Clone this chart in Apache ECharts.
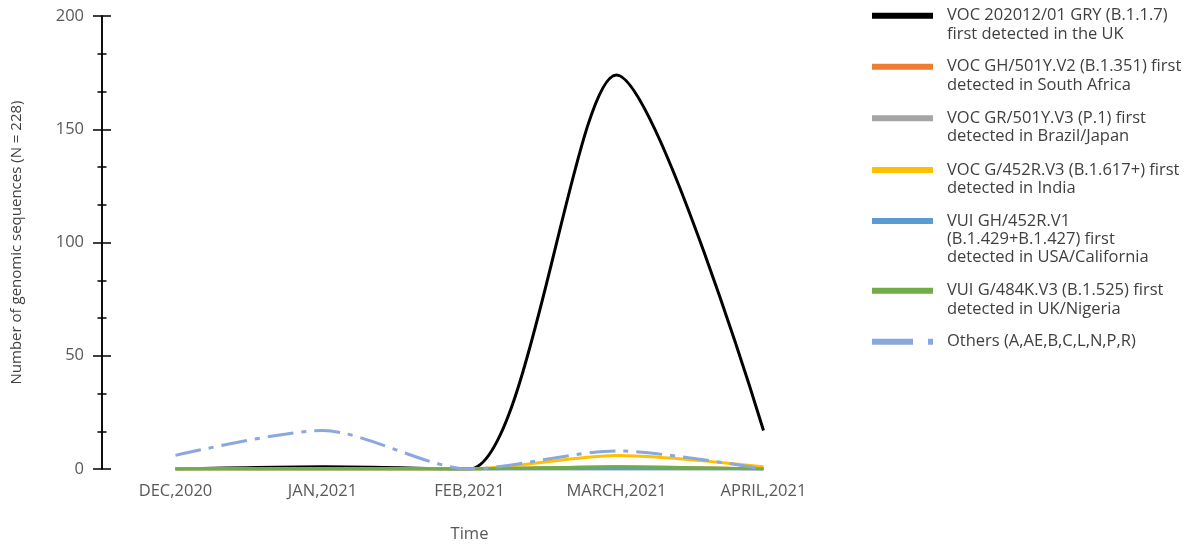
<!DOCTYPE html>
<html>
<head>
<meta charset="utf-8">
<script src="https://cdn.jsdelivr.net/npm/echarts@6/dist/echarts.min.js"></script>
<style>
html,body{margin:0;padding:0;background:#fff;}
#chart{width:1198px;height:545px;}
</style>
</head>
<body>
<div id="chart"></div>
<script>
const categories = ['DEC,2020', 'JAN,2021', 'FEB,2021', 'MARCH,2021', 'APRIL,2021'];
const yTicks = [0, 50, 100, 150, 200];

const seriesNames = [
  'VOC 202012/01 GRY (B.1.1.7) first detected in the UK',
  'VOC GH/501Y.V2 (B.1.351) first detected in South Africa',
  'VOC GR/501Y.V3 (P.1) first detected in Brazil/Japan',
  'VOC G/452R.V3 (B.1.617+) first detected in India',
  'VUI GH/452R.V1 (B.1.429+B.1.427) first detected in USA/California',
  'VUI G/484K.V3 (B.1.525) first detected in UK/Nigeria',
  'Others (A,AE,B,C,L,N,P,R)'
];
const legendLines = [
  ['VOC 202012/01 GRY (B.1.1.7)', 'first detected in the UK'],
  ['VOC GH/501Y.V2 (B.1.351) first', 'detected in South Africa'],
  ['VOC GR/501Y.V3 (P.1) first', 'detected in Brazil/Japan'],
  ['VOC G/452R.V3 (B.1.617+) first', 'detected in India'],
  ['VUI GH/452R.V1', '(B.1.429+B.1.427) first', 'detected in USA/California'],
  ['VUI G/484K.V3 (B.1.525) first', 'detected in UK/Nigeria'],
  ['Others (A,AE,B,C,L,N,P,R)']
];

const ukValues       = [0, 1, 0, 174, 17];
const safricaValues  = [0, 0, 0, 1, 0];
const brazilValues   = [0, 0, 0, 0, 0];
const indiaValues    = [0, 0, 0, 6, 1];
const usaValues      = [0, 0, 0, 0, 0];
const nigeriaValues  = [0, 0, 0, 1, 0];
const othersValues   = [6, 17, 0, 8, 0];

const seriesValues = [ukValues, safricaValues, brazilValues, indiaValues, usaValues, nigeriaValues, othersValues];
const colors = ['#000000', '#ED7D31', '#A5A5A5', '#FFC000', '#5B9BD5', '#70AD47', '#8AA8DC'];

const chart = echarts.init(document.getElementById('chart'));

const LH = 18.3;
const FONT = 'Open Sans';
const iconCenters = [15.7, 66.7, 118.3, 170, 221, 290.7, 341.7];

function iconPath(n, dashed) {
  const h = n * LH;
  const y0 = (LH / 2 - 3).toFixed(2);
  const y1 = (LH / 2 + 3).toFixed(2);
  const marks = 'M0,0h0.01v0.01h-0.01Z M60.99,' + (h - 0.01).toFixed(2) + 'h0.01v0.01h-0.01Z ';
  const body = dashed
    ? 'M0,' + y0 + 'H41V' + y1 + 'H0Z M56,' + y0 + 'H61V' + y1 + 'H56Z'
    : 'M0,' + y0 + 'H61V' + y1 + 'H0Z';
  return 'path://' + marks + body;
}

const legends = seriesNames.map((name, i) => {
  const lines = legendLines[i];
  const n = lines.length;
  return {
    orient: 'vertical',
    left: 872,
    top: iconCenters[i] - LH / 2,
    padding: 0,
    itemWidth: 61,
    itemHeight: n * LH,
    selectedMode: false,
    icon: iconPath(n, i === 6),
    data: [name],
    formatter: () => lines.join('\n'),
    textStyle: {
      fontFamily: FONT,
      fontSize: 16.5,
      lineHeight: LH,
      color: '#404040',
      padding: [0, 0, 0, 9]
    }
  };
});

const yBase = {
  type: 'value',
  min: yTicks[0],
  max: yTicks[yTicks.length - 1],
  interval: 50,
  position: 'left',
  splitLine: { show: false },
  axisLine: { show: true, lineStyle: { color: '#000', width: 1.5 } },
  minorTick: { show: true, splitNumber: 3, length: 4.5, lineStyle: { color: '#000', width: 1.5 } },
  minorSplitLine: { show: false }
};

const option = {
  animation: false,
  backgroundColor: '#fff',
  color: colors,
  grid: { left: 102, right: 361, top: 16, bottom: 76, containLabel: false, outerBoundsMode: 'none' },
  legend: legends,
  xAxis: {
    type: 'category',
    data: categories,
    boundaryGap: true,
    axisLine: { show: false },
    axisTick: { show: false },
    axisLabel: { color: '#595959', fontFamily: FONT, fontSize: 16.5, margin: 14 },
    name: 'Time',
    nameLocation: 'middle',
    nameGap: 57,
    nameTextStyle: { color: '#595959', fontFamily: FONT, fontSize: 16.5 }
  },
  yAxis: [
    Object.assign({}, yBase, {
      axisTick: { show: true, inside: false, length: 9, lineStyle: { color: '#000', width: 1.5 } },
      axisLabel: { color: '#595959', fontFamily: FONT, fontSize: 16.5, margin: 18 },
      name: 'Number of genomic sequences (N = 228)',
      nameLocation: 'middle',
      nameGap: 78,
      nameTextStyle: { color: '#404040', fontFamily: FONT, fontSize: 15 }
    }),
    Object.assign({}, yBase, {
      axisTick: { show: true, inside: true, length: 9, lineStyle: { color: '#000', width: 1.5 } },
      axisLabel: { show: false }
    })
  ],
  series: seriesNames.map((name, i) => ({
    name: name,
    type: 'line',
    data: seriesValues[i],
    smooth: 0.27,
    symbol: 'none',
    showSymbol: false,
    clip: true,
    z: 2 + i,
    lineStyle: {
      color: colors[i],
      width: 3,
      type: i === 6 ? [26, 8, 5, 8] : 'solid',
      cap: 'butt'
    },
    itemStyle: { color: colors[i] }
  }))
};

chart.setOption(option);
</script>
</body>
</html>
